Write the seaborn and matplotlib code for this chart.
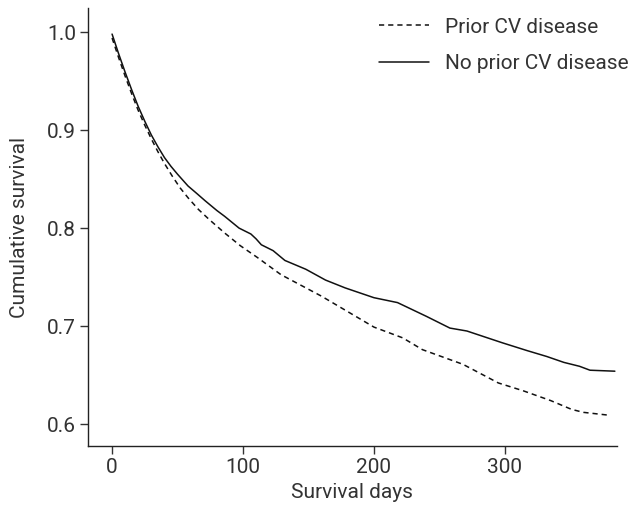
import pandas as pd
import matplotlib
matplotlib.use("Agg")
import matplotlib.pyplot as plt
import seaborn as sns

# Kaplan-Meier style curves
no_prior_days = [0, 5, 10, 15, 20, 25, 30, 35, 40, 45, 50, 58, 65, 71, 80, 86, 97,
                 106, 110, 114, 123, 132, 148, 163, 178, 200, 218, 240, 258, 271,
                 298, 317, 332, 345, 357, 365, 384]
no_prior_surv = [0.998, 0.978, 0.959, 0.941, 0.924, 0.909, 0.895, 0.883, 0.872, 0.863,
                 0.855, 0.843, 0.835, 0.828, 0.818, 0.812, 0.800, 0.794, 0.789, 0.783,
                 0.777, 0.767, 0.758, 0.747, 0.739, 0.729, 0.724, 0.710, 0.698, 0.695,
                 0.683, 0.675, 0.669, 0.663, 0.659, 0.655, 0.654]

prior_days = [0, 5, 10, 15, 20, 25, 30, 35, 40, 46, 52, 58, 66, 74, 86, 98, 111,
              129, 160, 200, 222, 237, 268, 295, 314, 335, 351, 360, 380]
prior_surv = [0.994, 0.974, 0.955, 0.937, 0.920, 0.905, 0.891, 0.878, 0.866, 0.853,
              0.841, 0.831, 0.819, 0.809, 0.795, 0.782, 0.770, 0.7525, 0.7305, 0.699,
              0.688, 0.676, 0.661, 0.642, 0.634, 0.624, 0.615, 0.612, 0.609]

group_labels = ["Prior CV disease", "No prior CV disease"]
x_ticks = [0, 100, 200, 300]
y_ticks = [0.6, 0.7, 0.8, 0.9, 1.0]

df = pd.concat([
    pd.DataFrame({"days": prior_days, "surv": prior_surv, "group": group_labels[0]}),
    pd.DataFrame({"days": no_prior_days, "surv": no_prior_surv, "group": group_labels[1]}),
])

sns.set_style("ticks")
plt.rcParams["font.family"] = ["Roboto", "DejaVu Sans"]
text_color = "#333333"
fs = 15

fig = plt.figure(figsize=(6.32, 5.07), dpi=100)
ax = fig.add_axes([0.139, 0.120, 0.837, 0.864])

sns.lineplot(
    data=df, x="days", y="surv", hue="group", style="group",
    hue_order=group_labels, style_order=group_labels,
    palette=["#111111", "#111111"],
    dashes={group_labels[0]: (3.4, 2.6), group_labels[1]: ""},
    linewidth=1.1, ax=ax, estimator=None, sort=True,
)

ax.set_xlim(-18.5, 385.5)
ax.set_ylim(0.5775, 1.0245)
ax.set_xticks(x_ticks)
ax.set_yticks(y_ticks)
ax.set_yticklabels([f"{v:.1f}" for v in y_ticks])
ax.set_xlabel("Survival days", fontsize=fs, color=text_color)
ax.set_ylabel("Cumulative survival", fontsize=fs, color=text_color)
ax.xaxis.set_label_coords(0.5, -0.083)
ax.yaxis.set_label_coords(-0.112, 0.5)
ax.tick_params(labelsize=fs, colors=text_color, length=5.5, width=1, pad=3)

for side in ["top", "right"]:
    ax.spines[side].set_visible(False)
for side in ["left", "bottom"]:
    ax.spines[side].set_color("#222222")
    ax.spines[side].set_linewidth(1.0)

ax.legend(
    title=None, frameon=False, loc="upper right",
    bbox_to_anchor=(0.994, 0.965), bbox_transform=fig.transFigure,
    borderpad=0, borderaxespad=0, fontsize=fs,
    handlelength=2.4, labelspacing=0.85, handletextpad=0.75,
    labelcolor=text_color,
)

fig.savefig("out.png", dpi=100)
